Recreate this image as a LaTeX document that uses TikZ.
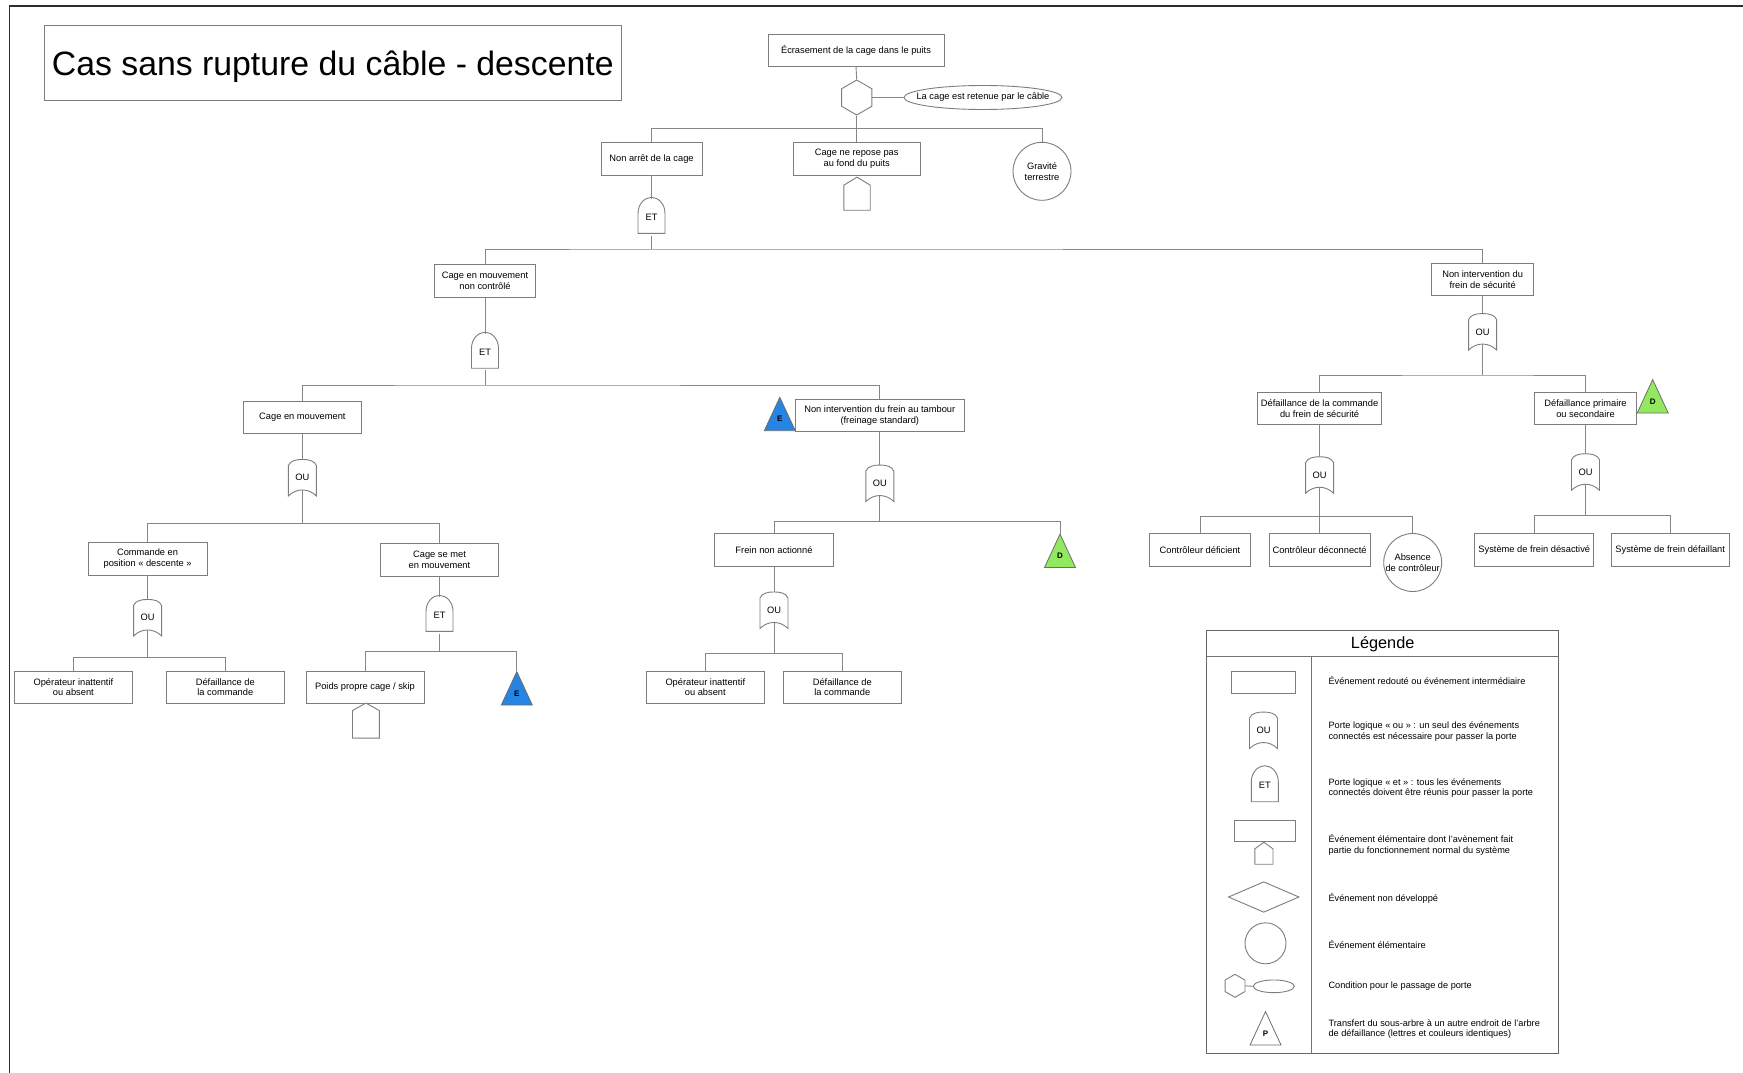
\documentclass[tikz,border=0pt]{standalone}
\usepackage{fontspec}
\setmainfont{Liberation Sans}
\usetikzlibrary{shapes.geometric,calc}

\definecolor{edgegray}{RGB}{125,125,125}
\definecolor{wiregray}{RGB}{135,135,135}
\definecolor{framegray}{RGB}{45,45,45}
\definecolor{triedge}{RGB}{110,110,110}
\definecolor{transblue}{RGB}{38,132,226}
\definecolor{transgreen}{RGB}{146,232,96}

\tikzset{
  txt/.style={font=\fontsize{9.3}{10.7}\selectfont},
  evt/.style={draw=edgegray, line width=0.9pt, fill=white, minimum height=32.3pt,
              inner sep=1pt, align=center, txt, minimum width=#1},
  evt/.default=118pt,
  circevt/.style={circle, draw=edgegray, line width=0.9pt, fill=white, minimum size=#1,
                  inner sep=0pt, align=center, txt},
  circevt/.default=58pt,
  gatebody/.style={minimum width=28pt, minimum height=36.5pt, inner sep=0pt, txt},
  gateline/.style={draw=edgegray, line width=0.9pt, fill=white},
  wire/.style={draw=wiregray, line width=0.9pt},
  trilabel/.style={inner sep=0pt, font=\bfseries\fontsize{8}{9}\selectfont},
  legtext/.style={anchor=west, align=left, font=\fontsize{9.2}{10.5}\selectfont},
  hexcond/.style={regular polygon, regular polygon sides=6, shape border rotate=30,
                  draw=edgegray, line width=0.9pt, fill=white, inner sep=0pt, minimum size=#1},
}

% OR gate: rounded top, concave base; #1 name, #2 centre, #3 label
\newcommand\orgate[3]{%
  \draw[gateline] ($(#2)+(-14,18.25)$) -- ($(#2)+(-14,-12.25)$)
    .. controls ($(#2)+(-12,-17.2)$) and ($(#2)+(-6,-18.25)$) .. ($(#2)+(0,-18.25)$)
    .. controls ($(#2)+(6,-18.25)$) and ($(#2)+(12,-17.2)$) .. ($(#2)+(14,-12.25)$)
    -- ($(#2)+(14,18.25)$)
    .. controls ($(#2)+(6,10.25)$) and ($(#2)+(-6,10.25)$) .. ($(#2)+(-14,18.25)$) -- cycle;
  \node[gatebody] (#1) at (#2) {#3};}

% AND gate: arched top, flat base
\newcommand\andgate[3]{%
  \draw[gateline] ($(#2)+(-13.5,18)$) -- ($(#2)+(-13.5,-2)$)
    .. controls ($(#2)+(-13.5,-11)$) and ($(#2)+(-7,-18)$) .. ($(#2)+(0,-18)$)
    .. controls ($(#2)+(7,-18)$) and ($(#2)+(13.5,-11)$) .. ($(#2)+(13.5,-2)$)
    -- ($(#2)+(13.5,18)$) -- cycle;
  \node[gatebody, minimum width=27pt, minimum height=36pt] (#1) at ($(#2)+(0,2)$) {#3};}

% house symbol: #1 name, #2 centre, #3 width, #4 height, #5 roof height
\newcommand\house[5]{%
  \node[inner sep=0pt, minimum width=#3, minimum height=#4] (#1) at (#2) {};
  \draw[gateline] (#1.south west) -- ([yshift=-#5]#1.north west) -- (#1.north)
    -- ([yshift=-#5]#1.north east) -- (#1.south east) -- cycle;}

% transfer triangle: #1 name, #2 centre, #3 fill, #4 letter
\newcommand\transfer[4]{%
  \filldraw[fill=#3, draw=triedge, line width=0.8pt] ($(#2)+(-15.5,16.7)$) -- ($(#2)+(0,-16.7)$)
    -- ($(#2)+(15.5,16.7)$) -- cycle;
  \node[inner sep=0pt, minimum width=31pt, minimum height=33.4pt] (#1) at (#2) {};
  \node[trilabel] (#1-txt) at ($(#2)+(0,5.2)$) {#4};}

\begin{document}
\begin{tikzpicture}[x=1pt, y=-1pt]
\useasboundingbox (0,0) rectangle (1743,1073);
\fill[white] (0,0) rectangle (1743,1073);

% page frame
\draw[framegray, line width=1.6pt] (9.5,1073) -- (9.5,6) -- (1743,6);

% title
\node[draw=edgegray, line width=0.9pt, minimum width=576.5pt, minimum height=74.5pt] (title) at (332.8,62.8) {};
\node[font=\fontsize{33.8}{40}\selectfont, inner sep=0pt] (title-text) at (332.8,66.3) {Cas sans rupture du câble - descente};

% ---------- top event and condition ----------
\node[evt=176pt, minimum height=32pt] (top) at (856,50) {Écrasement de la cage dans le puits};
\node[hexcond=35pt] (hex) at (856.7,97.5) {};
\node[ellipse, draw=edgegray, line width=0.9pt, minimum width=158pt, minimum height=24pt,
      inner sep=0pt, txt] (cond) at (983,97.5) {\makebox[0pt]{La cage est retenue par le câble}};

% ---------- level 1 ----------
\node[evt=101pt] (nonarret) at (651.5,158.8) {Non arrêt de la cage};
\node[evt=127pt] (repose) at (856.7,158.8) {Cage ne repose pas\\au fond du puits};
\house{repose-h}{857,193.7}{26pt}{32.7pt}{8pt}
\node[circevt] (grav) at (1042,171.3) {Gravité\\terrestre};
\andgate{g1}{651.5,215.3}{ET}

% ---------- level 2 ----------
\node[evt=101.4pt] (cmnc) at (485,281) {Cage en mouvement\\non contrôlé};
\andgate{g2}{485,350.2}{ET}
\node[evt=101.5pt] (nifs) at (1482.6,279.6) {Non intervention du\\frein de sécurité};
\orgate{g3}{1482.6,331.8}{OU}

% ---------- level 3 ----------
\node[evt=118.5pt] (cem) at (302.4,417.2) {Cage en mouvement};
\orgate{g4}{302.4,477.7}{OU}
\node[evt=169pt] (nift) at (879.8,415.5) {Non intervention du frein au tambour\\(freinage standard)};
\transfer{tE1}{779.8,414}{transblue}{E}
\orgate{g5}{879.8,483.3}{OU}
\node[evt=124.3pt] (dcfs) at (1319.6,408.5) {Défaillance de la commande\\du frein de sécurité};
\orgate{g6}{1319.6,475}{OU}
\node[evt=101.6pt] (dps) at (1585.5,408.5) {Défaillance primaire\\ou secondaire};
\transfer{tD2}{1652.7,396.3}{transgreen}{D}
\orgate{g7}{1585.5,472}{OU}

% ---------- level 4 ----------
\node[evt=118.8pt] (cmd) at (147.6,558.8) {Commande en\\position « descente »};
\orgate{g8}{147.6,617.7}{OU}
\node[evt=118.5pt] (csm) at (439.5,560) {Cage se met\\en mouvement};
\andgate{g9}{439.5,613.3}{ET}
\node[evt=118.6pt] (fna) at (774,550) {Frein non actionné};
\orgate{g10}{774,610.2}{OU}
\transfer{tD1}{1060,550.8}{transgreen}{D}
\node[evt=100.8pt] (cdef) at (1200,550) {Contrôleur déficient};
\node[evt=100.8pt] (cdec) at (1319.6,550) {Contrôleur déconnecté};
\node[circevt] (absc) at (1412.7,562.5) {Absence\\de contrôleur};
\node[evt=118.8pt] (sfd) at (1534.3,550) {Système de frein désactivé};
\node[evt=118.4pt] (sfdf) at (1670.2,550) {Système de frein défaillant};

% ---------- level 5 ----------
\node[evt=118pt] (op1) at (73.4,687.2) {Opérateur inattentif\\ou absent};
\node[evt=118.5pt] (dc1) at (225.3,687.2) {Défaillance de\\la commande};
\node[evt=118pt] (ppc) at (365,687.2) {Poids propre cage / skip};
\house{ppc-h}{365.9,720.6}{26.4pt}{34.7pt}{7.5pt}
\transfer{tE2}{516.8,688.3}{transblue}{E}
\node[evt=118.7pt] (op2) at (705.3,687.2) {Opérateur inattentif\\ou absent};
\node[evt=118.7pt] (dc2) at (842.3,687.2) {Défaillance de\\la commande};

% ---------- connectors ----------
\draw[wire] (top.south) -- (hex.north);
\draw[wire] (hex.east) -- (cond.west);
\draw[wire] (hex.south) -- (repose.north);
\coordinate (bar1) at (856.7,128.3);
\draw[wire] (nonarret.north) |- (bar1) -| (grav.north);

\draw[wire] (nonarret.south) -- (g1.north);
\coordinate (bar2) at (651.5,249);
\draw[wire] (g1.south) -- (bar2);
\draw[wire] (cmnc.north) |- (bar2) -| (nifs.north);

\draw[wire] (cmnc.south) -- (g2.north);
\coordinate (bar3) at (485,385);
\draw[wire] (g2.south) -- (bar3);
\draw[wire] (cem.north) |- (bar3) -| (nift.north);

\draw[wire] (nifs.south) -- (g3.north);
\coordinate (bar4) at (1482.6,375);
\draw[wire] ([yshift=6pt]g3.south) -- (bar4);
\draw[wire] (dcfs.north) |- (bar4) -| (dps.north);

\draw[wire] (cem.south) -- (g4.north);
\coordinate (bar5) at (302.4,523.3);
\draw[wire] ([yshift=6pt]g4.south) -- (bar5);
\draw[wire] (cmd.north) |- (bar5) -| (csm.north);

\draw[wire] (nift.south) -- (g5.north);
\coordinate (bar6) at (879.8,521.7);
\draw[wire] ([yshift=6pt]g5.south) -- (bar6);
\draw[wire] (fna.north) |- (bar6) -| (tD1.north);

\draw[wire] (dcfs.south) -- (g6.north);
\coordinate (bar7) at (1319.6,516.5);
\draw[wire] ([yshift=6pt]g6.south) -- (bar7);
\draw[wire] (cdef.north) |- (bar7) -| (absc.north);
\draw[wire] (bar7) -- (cdec.north);

\draw[wire] (dps.south) -- (g7.north);
\coordinate (bar8) at (1585.5,515.7);
\draw[wire] ([yshift=6pt]g7.south) -- (bar8);
\draw[wire] (sfd.north) |- (bar8) -| (sfdf.north);

\draw[wire] (cmd.south) -- (g8.north);
\coordinate (bar9) at (147.6,657.3);
\draw[wire] ([yshift=6pt]g8.south) -- (bar9);
\draw[wire] (op1.north) |- (bar9) -| (dc1.north);

\draw[wire] (csm.south) -- (g9.north);
\coordinate (bar10) at (439.5,651.7);
\draw[wire] (g9.south) -- (bar10);
\draw[wire] (ppc.north) |- (bar10) -| (tE2.north);

\draw[wire] (fna.south) -- (g10.north);
\coordinate (bar11) at (774,653.3);
\draw[wire] ([yshift=6pt]g10.south) -- (bar11);
\draw[wire] (op2.north) |- (bar11) -| (dc2.north);

% ---------- legend ----------
\node[draw=black!60, line width=1pt, minimum width=352pt, minimum height=423.3pt, inner sep=0pt]
  (legend) at (1382.7,841.65) {};
\node[font=\fontsize{16.3}{19}\selectfont] (legend-title) at (1382.7,644.3) {Légende};
\coordinate (leg-sep) at (1206.7,656.7);
\coordinate (leg-div) at (1311,656.7);
\draw[black!55, line width=0.9pt] (leg-sep) -- (leg-sep -| legend.east);
\draw[black!55, line width=0.9pt] (leg-div) -- (leg-div |- legend.south);

\node[evt=64.7pt, minimum height=21.7pt] (lg-evt) at (1263.3,682.5) {};
\orgate{lg-or}{1263.5,730.3}{OU}
\andgate{lg-and}{1264.8,783.7}{ET}
\node[evt=61.4pt, minimum height=21.4pt] (lg-normal) at (1265,831) {};
\house{lg-house}{1263.9,853.2}{17.7pt}{21.7pt}{6.7pt}
\node[diamond, draw=edgegray, line width=0.9pt, minimum width=70.7pt, minimum height=30.6pt,
      inner sep=0pt] (lg-undev) at (1263.7,897) {};
\node[circevt=41pt] (lg-basic) at (1265.5,943.3) {};
\node[hexcond=23pt] (lg-hex) at (1235,985.8) {};
\node[ellipse, draw=edgegray, line width=0.9pt, minimum width=41pt, minimum height=12.7pt,
      inner sep=0pt] (lg-cond) at (1273.8,986.3) {};
\draw[wire] (lg-hex.east) -- (lg-cond.west);
\transfer{lg-tr}{1265.5,1028.3}{white}{P}

\node[legtext] (lt1) at (1325,680.5) {Événement redouté ou événement intermédiaire};
\node[legtext] (lt2) at (1325,731.5) {Porte logique « ou » : un seul des événements\\connectés est nécessaire pour passer la porte};
\node[legtext] (lt3) at (1325,788.2) {Porte logique « et » : tous les événements\\connectés doivent être réunis pour passer la porte};
\node[legtext] (lt4) at (1325,845.2) {Événement élémentaire dont l'avènement fait\\partie du fonctionnement normal du système};
\node[legtext] (lt5) at (1325,898.2) {Événement non développé};
\node[legtext] (lt6) at (1325,944.8) {Événement élémentaire};
\node[legtext] (lt7) at (1325,986.2) {Condition pour le passage de porte};
\node[legtext] (lt8) at (1325,1029) {Transfert du sous-arbre à un autre endroit de l'arbre\\de défaillance (lettres et couleurs identiques)};
\end{tikzpicture}
\end{document}
